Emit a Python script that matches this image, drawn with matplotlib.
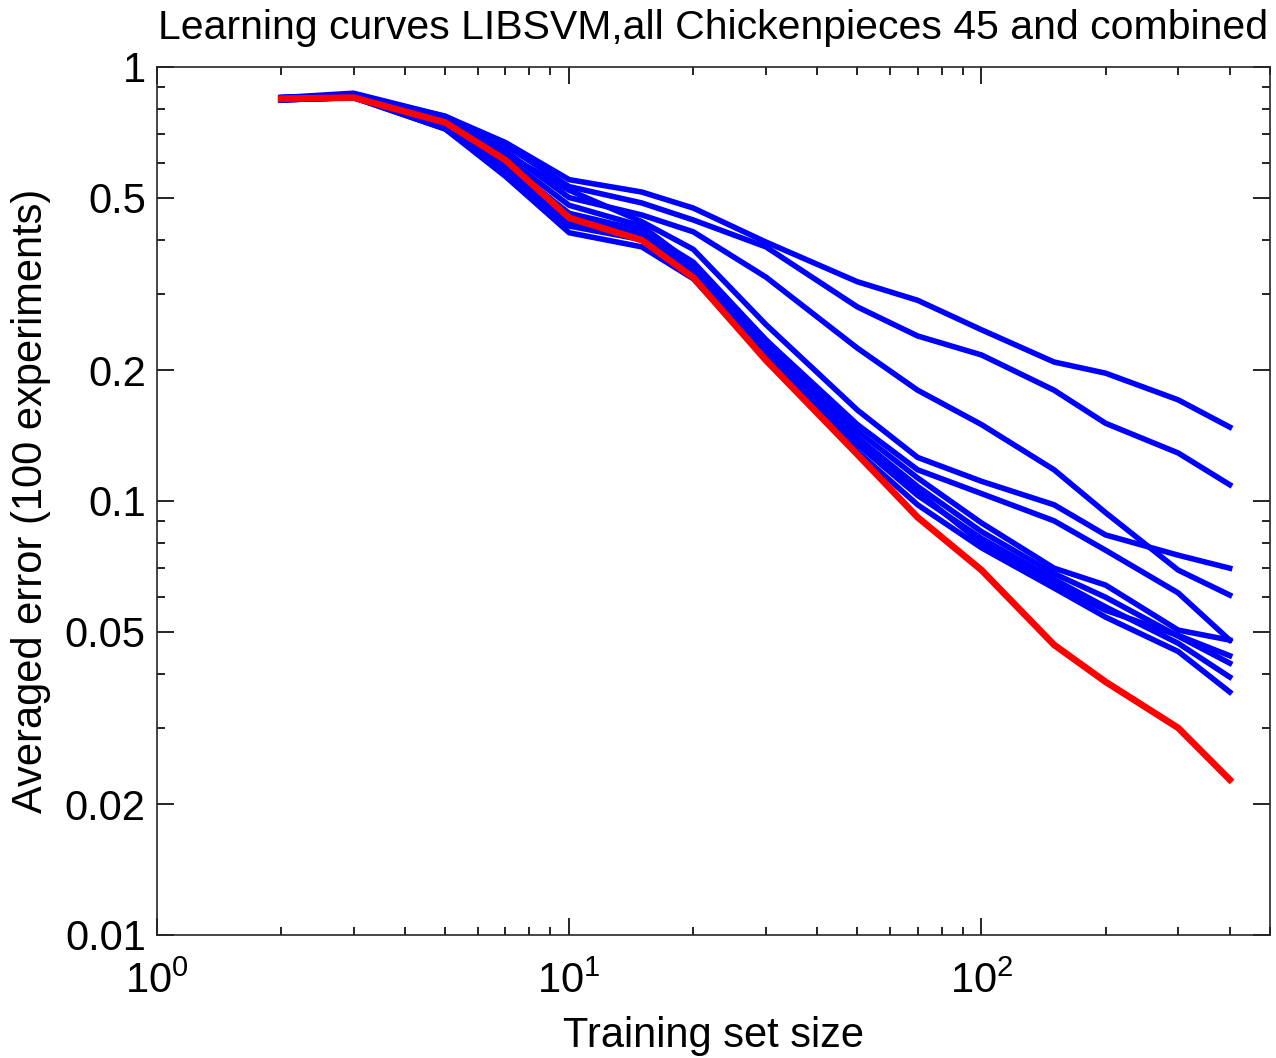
import matplotlib
matplotlib.use("Agg")
import matplotlib.pyplot as plt
from matplotlib.ticker import FixedLocator, NullFormatter

plt.rcParams['font.family'] = ['Liberation Sans', 'DejaVu Sans']
plt.rcParams['mathtext.default'] = 'regular'

# training set sizes
sizes = [2, 3, 5, 7, 10, 15, 20, 30, 50, 70, 100, 150, 200, 300, 400]

# averaged errors of the single classifiers (blue)
err_1 = [0.85, 0.87, 0.77, 0.67, 0.55, 0.515, 0.473, 0.395, 0.32, 0.29, 0.248, 0.209, 0.197, 0.171, 0.148]
err_2 = [0.85, 0.86, 0.77, 0.66, 0.53, 0.486, 0.444, 0.385, 0.28, 0.24, 0.217, 0.180, 0.151, 0.129, 0.109]
err_3 = [0.84, 0.86, 0.76, 0.64, 0.50, 0.456, 0.417, 0.328, 0.225, 0.18, 0.150, 0.118, 0.094, 0.0693, 0.0607]
err_4 = [0.85, 0.86, 0.76, 0.63, 0.52, 0.44, 0.38, 0.255, 0.162, 0.126, 0.111, 0.098, 0.0835, 0.075, 0.070]
err_5 = [0.84, 0.85, 0.74, 0.62, 0.48, 0.43, 0.35, 0.235, 0.150, 0.118, 0.104, 0.090, 0.077, 0.0614, 0.0478]
err_6 = [0.84, 0.85, 0.75, 0.60, 0.46, 0.42, 0.355, 0.235, 0.145, 0.113, 0.089, 0.070, 0.064, 0.0504, 0.0478]
err_7 = [0.85, 0.86, 0.73, 0.58, 0.44, 0.41, 0.345, 0.228, 0.140, 0.108, 0.085, 0.068, 0.060, 0.0488, 0.0423]
err_8 = [0.84, 0.85, 0.72, 0.57, 0.43, 0.40, 0.335, 0.222, 0.135, 0.103, 0.082, 0.066, 0.057, 0.0470, 0.0393]
err_9 = [0.84, 0.85, 0.72, 0.56, 0.415, 0.385, 0.325, 0.215, 0.130, 0.098, 0.078, 0.063, 0.054, 0.0450, 0.0363]
err_10 = [0.85, 0.86, 0.74, 0.59, 0.45, 0.415, 0.34, 0.225, 0.138, 0.105, 0.080, 0.064, 0.056, 0.0490, 0.0440]
blue_curves = [err_1, err_2, err_3, err_4, err_5, err_6, err_7, err_8, err_9, err_10]

# combined classifier (red)
err_comb = [0.845, 0.85, 0.745, 0.61, 0.449, 0.399, 0.327, 0.211, 0.128, 0.0917, 0.0693, 0.0466, 0.0383, 0.030, 0.0228]

y_ticks = [0.01, 0.02, 0.05, 0.1, 0.2, 0.5, 1]
y_ticklabels = ['0.01', '0.02', '0.05', '0.1', '0.2', '0.5', '1']

fig = plt.figure(figsize=(12.76, 10.58), dpi=100)
ax = fig.add_axes([0.123, 0.1163, 0.872, 0.8204])

for e in blue_curves:
    ax.plot(sizes, e, color='#0000ff', linewidth=4)
ax.plot(sizes, err_comb, color='#ff0000', linewidth=4.8)

ax.set_xscale('log')
ax.set_yscale('log')
ax.set_xlim(1, 500)
ax.set_ylim(0.01, 1)

ax.yaxis.set_major_locator(FixedLocator(y_ticks))
ax.set_yticklabels(y_ticklabels)
minor_y = [m * d for d in (0.01, 0.1) for m in (3, 4, 6, 7, 8, 9)]
ax.yaxis.set_minor_locator(FixedLocator(minor_y))
ax.yaxis.set_minor_formatter(NullFormatter())

ax.tick_params(which='both', direction='in', top=True, right=True, labelsize=30, width=1.2)
ax.tick_params(which='major', length=12)
ax.tick_params(which='minor', length=6)
ax.tick_params(axis='x', which='major', pad=19)
ax.tick_params(axis='y', which='major', pad=8)
for s in ax.spines.values():
    s.set_linewidth(1.2)
    s.set_color('#262626')

ax.set_title('Learning curves LIBSVM,all Chickenpieces 45 and combined', fontsize=29.5, pad=20)
ax.set_xlabel('Training set size', fontsize=30, labelpad=10)
ax.set_ylabel('Averaged error (100 experiments)', fontsize=30, labelpad=10)

fig.savefig('out.png', dpi=100)
